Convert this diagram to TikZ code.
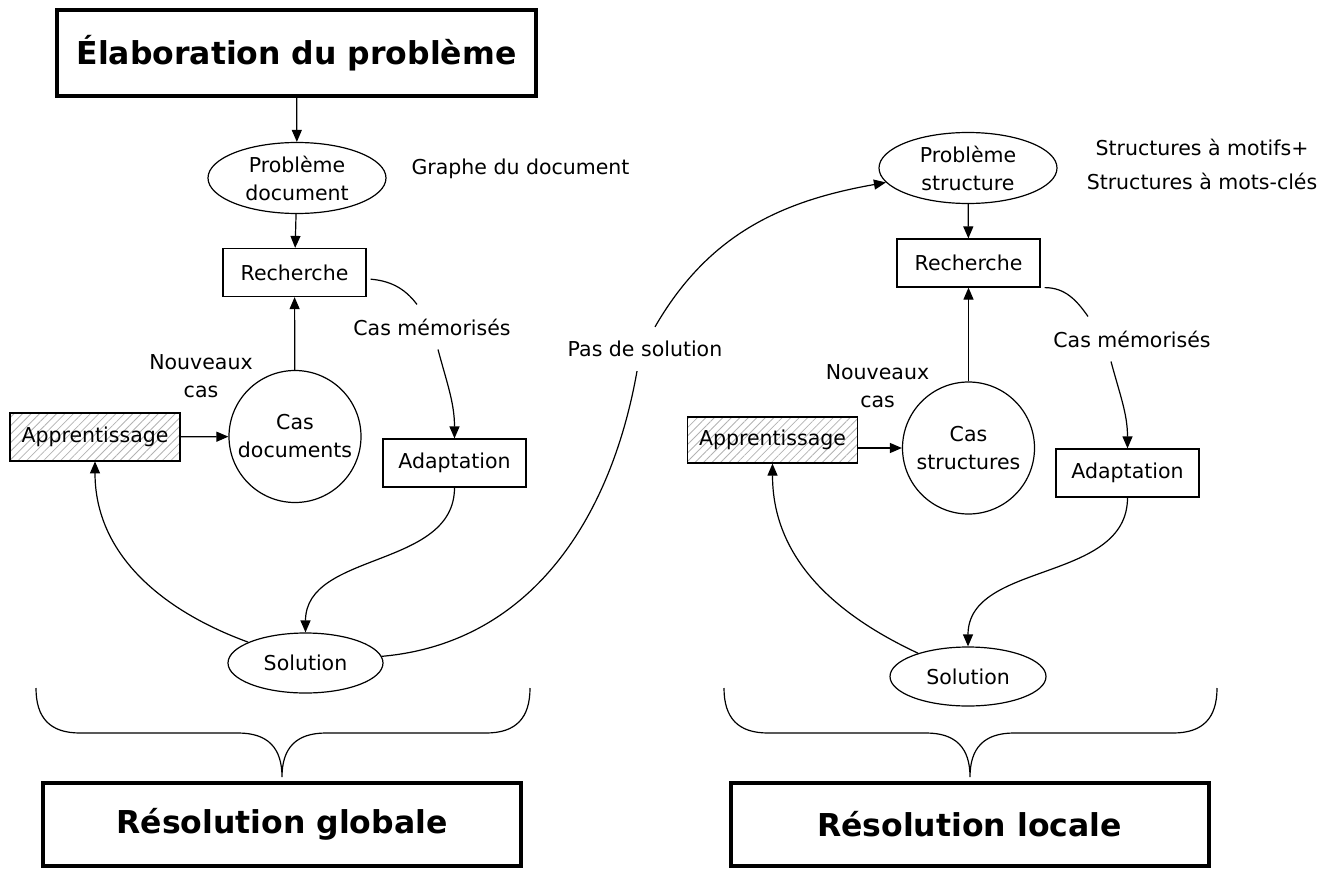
\documentclass[tikz,border=0pt]{standalone}
\usepackage{fontspec}
\setmainfont{DejaVu Sans}
\usetikzlibrary{shapes.geometric,arrows.meta,patterns.meta}

\begin{document}
\begin{tikzpicture}
		[x=1pt,y=-1pt,
		font=\fontsize{20.5}{28}\selectfont,
		block/.style ={rectangle, draw=black, line width=1.2pt, minimum width=143pt, minimum height=48pt, inner sep=0pt},
		hatched/.style ={block, pattern={Lines[angle=45,distance=6pt,line width=0.8pt]}, pattern color=black!30, minimum width=170pt},
		bigblock/.style ={rectangle, draw=black, line width=4pt, minimum width=478pt, minimum height=83pt, font=\fontsize{31.5}{36}\selectfont\bfseries},
		oval/.style ={ellipse, draw=black, line width=1.2pt, inner sep=0pt, align=center},
		store/.style ={circle, draw=black, line width=1.2pt, minimum size=132pt, inner sep=0pt, align=center},
		lbl/.style ={inner xsep=2pt, inner ysep=14pt, align=center},
		line/.style ={line width=1.2pt, -{Triangle[length=12pt,width=10pt]}},
		link/.style ={line width=1.2pt}]
		\useasboundingbox (0,0) rectangle (1337,869);

		\node[bigblock, minimum width=479pt, minimum height=86pt] (elab) at (296.5,53) {Élaboration du problème};
		\node[oval, minimum width=178pt, minimum height=71pt] (pdoc) at (297,178) {Problème\\document};
		\node[anchor=west] (graphe) at (408,169) {Graphe du document};
		\node[block] (rech1) at (294.5,272.5) {Recherche};
		\node[store] (casdoc) at (295,436.5) {Cas\\documents};
		\node[align=center] (nouv1) at (201,376) {Nouveaux\\cas};
		\node[hatched] (appr1) at (95,437) {Apprentissage};
		\node[lbl] (mem1) at (432,327) {Cas mémorisés};
		\node[block] (adap1) at (454.5,463) {Adaptation};
		\node[oval, minimum width=155pt, minimum height=60pt] (sol1) at (305.5,663) {Solution};
		\node[lbl] (pas) at (645,349) {Pas de solution};
		\node[bigblock] (glob) at (282,824.5) {Résolution globale};

		\node[oval, minimum width=178pt, minimum height=71pt] (pstr) at (968,168) {Problème\\structure};
		\node[align=center, font=\fontsize{20.5}{34}\selectfont] (motifs) at (1202,164) {Structures à motifs+\\Structures à mots-clés};
		\node[block] (rech2) at (968.5,263) {Recherche};
		\node[store] (casstr) at (968.5,448) {Cas\\structures};
		\node[align=center] (nouv2) at (877.5,386) {Nouveaux\\cas};
		\node[hatched, minimum height=46pt] (appr2) at (772.5,440) {Apprentissage};
		\node[lbl] (mem2) at (1132,339) {Cas mémorisés};
		\node[block] (adap2) at (1127.5,473) {Adaptation};
		\node[oval, minimum width=156pt, minimum height=59pt] (sol2) at (968,676.5) {Solution};
		\node[bigblock] (loc) at (969.5,824.5) {Résolution locale};

		\path[line]
		(elab) edge (pdoc)
		(pdoc) edge (rech1)
		(casdoc) edge (rech1)
		(appr1) edge (casdoc)
		([xshift=6pt]mem1.south) edge[out=-75,in=90] (adap1)
		(adap1) edge[out=-90,in=90] (sol1)
		(sol1) edge[out=160,in=-90] (appr1)
		([xshift=10pt]pas.north) edge[out=60,in=190] (pstr);

		\path[link]
		(rech1) edge[out=-5,in=127,shorten <=4pt] ([xshift=-15pt]mem1.north)
		(sol1) edge[out=5,in=-100] ([xshift=-8pt]pas.south);

		\path[line]
		(pstr) edge (rech2)
		(casstr) edge (rech2)
		(appr2.east |- casstr) edge (casstr)
		([xshift=-21pt]mem2.south) edge[out=-75,in=90] (adap2)
		(adap2) edge[out=-90,in=90] (sol2)
		(sol2) edge[out=155,in=-90] (appr2);

		\path[link]
		([xshift=4pt]rech2.south east) edge[out=0,in=125] ([xshift=-44pt]mem2.north);

		\foreach \l/\m/\r in {36/282/530, 724/970/1217}
		\draw[link] (\l,688) .. controls (\l,718) and (\l+14,733) .. (\l+44,733) -- (\m-44,733)
			.. controls (\m-14,733) and (\m,748) .. (\m,777)
			.. controls (\m,748) and (\m+14,733) .. (\m+44,733) -- (\r-44,733)
			.. controls (\r-14,733) and (\r,718) .. (\r,688);
	\end{tikzpicture}
\end{document}
